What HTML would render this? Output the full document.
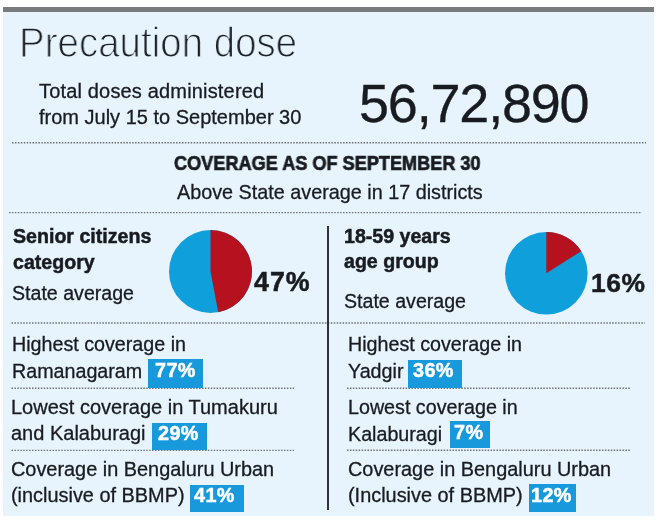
<!DOCTYPE html>
<html><head><meta charset="utf-8"><style>
html,body{margin:0;padding:0;background:#fff;}
body{width:660px;height:523px;position:relative;overflow:hidden;font-family:"Liberation Sans",sans-serif;color:#181c21;}
.panel{position:absolute;left:3px;top:7px;width:651px;height:509px;background:#e8f4fd;}
.bar{position:absolute;left:3px;top:6.5px;width:651px;height:5.5px;background:#787c7f;}
.t{position:absolute;white-space:nowrap;will-change:transform;-webkit-text-stroke:0.3px currentColor;}
.b{-webkit-text-stroke:0.5px currentColor;}
.dl{position:absolute;height:1.3px;background:repeating-linear-gradient(to right,#6c7176 0 1.5px,transparent 1.5px 3px);}
.bx{position:absolute;background:#1799dc;}
.pie{position:absolute;}
.dots{position:absolute;left:0;top:0;}
</style></head><body>
<div class="panel"></div><div class="bar"></div>
<svg class="dots" width="660" height="523"><g stroke="#6c7176" stroke-width="1.4" stroke-dasharray="1.5 1.43"><line x1="12" y1="142.80" x2="646" y2="142.80"/><line x1="9" y1="212.60" x2="642" y2="212.60"/><line x1="11.5" y1="323.00" x2="645" y2="323.00"/><line x1="11.5" y1="388.20" x2="294" y2="388.20"/><line x1="11.5" y1="450.40" x2="294" y2="450.40"/><line x1="347" y1="388.20" x2="630" y2="388.20"/><line x1="347" y1="450.20" x2="630" y2="450.20"/></g></svg>
<div class="t " style="left:18.60px;top:16.70px;font-size:43px;line-height:51.6px;color:#1a1f26;transform:scaleX(0.895);transform-origin:0 0;-webkit-text-stroke:1.25px #e8f4fd;">Precaution dose</div>
<div class="t " style="left:39.40px;top:77.57px;font-size:20px;line-height:26.4px;"><span style="letter-spacing:0.17px">Total doses administered</span><br>from July 15 to September 30</div>
<div class="t " style="left:358.70px;top:70.89px;font-size:54px;line-height:64.8px;letter-spacing:-1.2px;">56,72,890</div>
<div class="t  b" style="left:173.60px;top:151.64px;font-size:19.4px;line-height:23.279999999999998px;font-weight:bold;transform:scaleX(0.935);transform-origin:0 0;-webkit-text-stroke:0.7px currentColor;">COVERAGE AS OF SEPTEMBER 30</div>
<div class="t " style="left:176.90px;top:181.06px;font-size:19.8px;line-height:23.76px;">Above State average in 17 districts</div>
<div style="position:absolute;left:327px;top:226px;width:1.7px;height:284px;background:#2e3339"></div>
<div class="t  b" style="left:12.80px;top:223.01px;font-size:19.6px;line-height:26.0px;font-weight:bold;">Senior citizens<br>category</div>
<div class="t " style="left:12.30px;top:281.65px;font-size:19.6px;line-height:23.52px;">State average</div>
<svg class="pie" style="left:167.50px;top:228.90px" width="85.00" height="85.00" viewBox="-42.50 -42.50 85.00 85.00"><circle cx="0" cy="0" r="41.5" fill="#0f9fdb"/><path d="M0 0 L0 -41.5 A41.5 41.5 0 0 1 7.776 40.765 Z" fill="#b6111f"/></svg>
<div class="t  b" style="left:254.40px;top:266.03px;font-size:26.8px;line-height:32.16px;font-weight:bold;letter-spacing:1px;">47%</div>
<div class="t  b" style="left:343.80px;top:223.91px;font-size:19.6px;line-height:25px;font-weight:bold;">18-59 years<br>age group</div>
<div class="t " style="left:343.70px;top:289.65px;font-size:19.6px;line-height:23.52px;">State average</div>
<svg class="pie" style="left:503.70px;top:230.70px" width="84.60" height="84.60" viewBox="-42.30 -42.30 84.60 84.60"><circle cx="0" cy="0" r="41.3" fill="#0f9fdb"/><path d="M0 0 L0 -41.3 A41.3 41.3 0 0 1 34.871 -22.130 Z" fill="#b6111f"/></svg>
<div class="t  b" style="left:590.70px;top:268.41px;font-size:26.4px;line-height:31.679999999999996px;font-weight:bold;letter-spacing:0.6px;">16%</div>
<div class="t " style="left:11.50px;top:330.52px;font-size:19.7px;line-height:27.3px;">Highest coverage in<br>Ramanagaram</div>
<div class="bx" style="left:148.1px;top:359px;width:54.6px;height:28.5px;"></div>
<div class="t  b" style="left:154.50px;top:358.56px;font-size:19.8px;line-height:23.76px;font-weight:bold;color:#fff;letter-spacing:0.4px;">77%</div>
<div class="t " style="left:11.30px;top:394.02px;font-size:20px;line-height:26.1px;">Lowest coverage in Tumakuru<br>and Kalaburagi</div>
<div class="bx" style="left:152.2px;top:423.2px;width:55.1px;height:26.7px;"></div>
<div class="t  b" style="left:158.20px;top:422.26px;font-size:19.8px;line-height:23.76px;font-weight:bold;color:#fff;letter-spacing:0.4px;">29%</div>
<div class="t " style="left:10.80px;top:455.80px;font-size:19.9px;line-height:26.2px;">Coverage in Bengaluru Urban<br>(inclusive of BBMP)</div>
<div class="bx" style="left:189.5px;top:484.6px;width:54.6px;height:27.0px;"></div>
<div class="t  b" style="left:194.20px;top:483.76px;font-size:19.8px;line-height:23.76px;font-weight:bold;color:#fff;letter-spacing:0.4px;">41%</div>
<div class="t " style="left:348.30px;top:330.82px;font-size:19.7px;line-height:26.7px;">Highest coverage in<br>Yadgir</div>
<div class="bx" style="left:408.3px;top:359.5px;width:54.1px;height:28.3px;"></div>
<div class="t  b" style="left:412.50px;top:359.46px;font-size:19.8px;line-height:23.76px;font-weight:bold;color:#fff;letter-spacing:0.4px;">36%</div>
<div class="t " style="left:348.30px;top:393.62px;font-size:19.7px;line-height:26.7px;">Lowest coverage in<br>Kalaburagi</div>
<div class="bx" style="left:450px;top:420.7px;width:40.0px;height:27.6px;"></div>
<div class="t  b" style="left:454.00px;top:421.26px;font-size:19.8px;line-height:23.76px;font-weight:bold;color:#fff;letter-spacing:0.4px;">7%</div>
<div class="t " style="left:348.20px;top:455.80px;font-size:19.9px;line-height:26.2px;">Coverage in Bengaluru Urban<br>(Inclusive of BBMP)</div>
<div class="bx" style="left:529.4px;top:484px;width:46.4px;height:28.0px;"></div>
<div class="t  b" style="left:531.00px;top:484.26px;font-size:19.8px;line-height:23.76px;font-weight:bold;color:#fff;letter-spacing:0.4px;">12%</div>
</body></html>
